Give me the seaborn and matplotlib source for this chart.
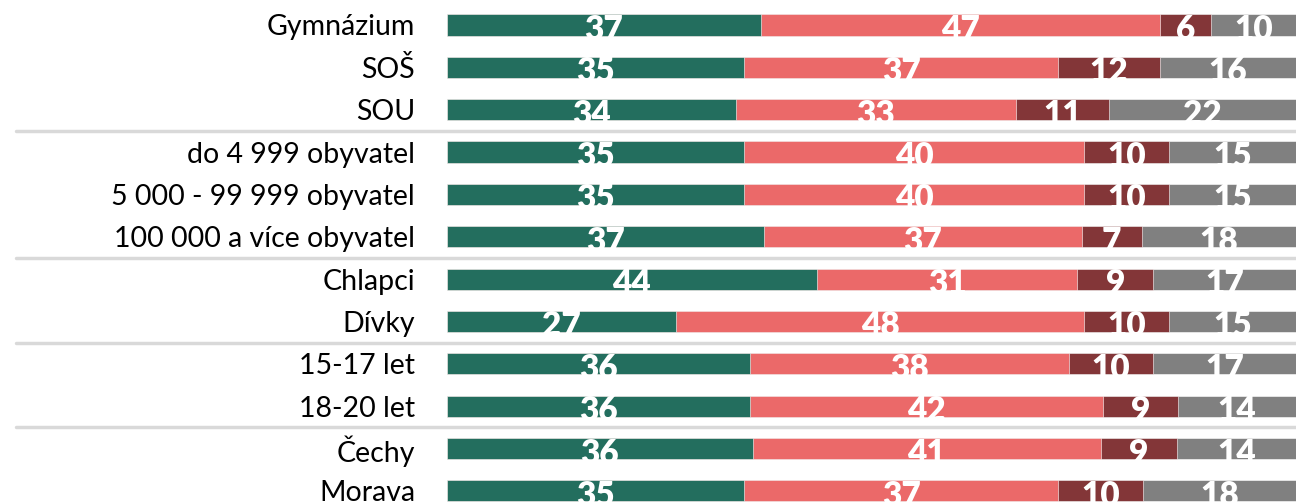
import numpy as np, pandas as pd
import seaborn as sns
import matplotlib.pyplot as plt

categories = ['Gymnázium', 'SOŠ', 'SOU', 'do 4 999 obyvatel', '5 000 - 99 999 obyvatel',
              '100 000 a více obyvatel', 'Chlapci', 'Dívky', '15-17 let', '18-20 let',
              'Čechy', 'Morava']
s1 = [37, 35, 34, 35, 35, 37, 44, 27, 36, 36, 36, 35]
s2 = [47, 37, 33, 40, 40, 37, 31, 48, 38, 42, 41, 37]
s3 = [6, 12, 11, 10, 10, 7, 9, 10, 10, 9, 9, 10]
s4 = [10, 16, 22, 15, 15, 18, 17, 15, 17, 14, 14, 18]
colors = ['#236e5e', '#eb6969', '#833638', '#808080']
separators_after = [2, 5, 7, 9]

sns.set_theme(style='white')
plt.rcParams['font.family'] = ['Lato', 'DejaVu Sans']

series = np.array([s1, s2, s3, s4], dtype=float)
share = series / series.sum(axis=0) * 100
cum = np.cumsum(share, axis=0)

fig = plt.figure(figsize=(12.96, 5.04), dpi=100)
ax = fig.add_axes([447 / 1296, 0, 849 / 1296, 1])

# stacked look: draw cumulative bars from the longest down
for k in range(3, -1, -1):
    df = pd.DataFrame({'cat': categories, 'val': cum[k]})
    sns.barplot(data=df, x='val', y='cat', color=colors[k], width=0.5,
                saturation=1, orient='h', ax=ax, edgecolor='white', linewidth=0.4)

# patches: layer 3 first, then 2, 1, 0
patches = ax.patches
for k in range(4):
    layer = 3 - k
    for i in range(len(categories)):
        left = cum[k - 1][i] if k > 0 else 0
        x = left + share[k][i] / 2
        t = ax.text(x, i - 0.26, str(int(series[k][i])), color='white', fontsize=24,
                    fontweight='heavy', ha='center', va='top', zorder=5)
        t.set_clip_path(patches[layer * len(categories) + i])

for s in separators_after:
    ax.axhline(s + 0.5, xmin=(16 - 447) / 849, xmax=1, color='#d9d9d9', lw=2.5, clip_on=False)

ax.set_xlim(0, 100)
ax.set_ylim(11.31, -0.59)
ax.set_xlabel('')
ax.set_ylabel('')
ax.set_xticks([])
ax.tick_params(axis='y', length=0, pad=23, labelsize=20.5, labelcolor='black')
sns.despine(ax=ax, left=True, bottom=True)

fig.savefig('out.png', dpi=100)
